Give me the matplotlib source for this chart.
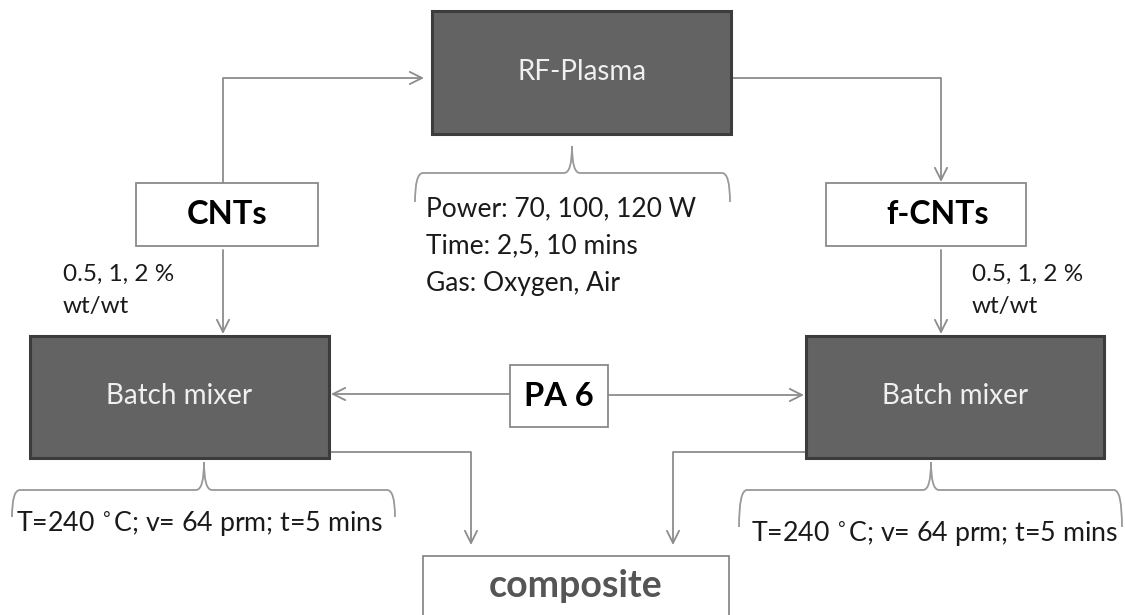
import matplotlib.pyplot as plt
from matplotlib.patches import Rectangle, PathPatch
from matplotlib.path import Path

# Text content of the flowchart
dark_labels = ['RF-Plasma', 'Batch mixer', 'Batch mixer']
light_labels = ['CNTs', 'f-CNTs', 'PA 6', 'composite']
plasma_params = ['Power: 70, 100, 120 W', 'Time: 2,5, 10 mins', 'Gas: Oxygen, Air']
loading_lines = ['0.5, 1, 2 %', 'wt/wt']
mixer_params = 'T=240 $^{\\circ}$C; v= 64 prm; t=5 mins'

plt.rcParams['font.family'] = ['Lato', 'DejaVu Sans']

fig = plt.figure(figsize=(11.25, 6.15), dpi=100)
ax = fig.add_axes([0, 0, 1, 1])
ax.set_xlim(0, 1125)
ax.set_ylim(615, 0)
ax.axis('off')

line_c = '#8c8c8c'
dark_fill = '#636363'
dark_edge = '#3c3c3c'

# box geometry (x0, y0, x1, y1) in pixels
dark_boxes = [(432, 11, 731, 134), (30, 336, 329, 458), (806, 336, 1104, 458)]
light_boxes = [(136, 183, 318, 246), (826, 183, 1026, 246), (510, 365, 608, 427), (423, 556, 729, 700)]

for (x0, y0, x1, y1), lab in zip(dark_boxes, dark_labels):
    ax.add_patch(Rectangle((x0, y0), x1 - x0, y1 - y0, facecolor=dark_fill,
                           edgecolor=dark_edge, lw=2.2, zorder=2))
    ax.text((x0 + x1) / 2, (y0 + y1) / 2 - 1, lab, color='#f0f0f0', fontsize=20,
            ha='center', va='center', zorder=3)

light_styles = [dict(color='black', fontsize=23.5), dict(color='black', fontsize=23),
                dict(color='black', fontsize=23.5), dict(color='#555555', fontsize=27)]
for (x0, y0, x1, y1), lab, st in zip(light_boxes, light_labels, light_styles):
    ax.add_patch(Rectangle((x0, y0), x1 - x0, y1 - y0, facecolor='white',
                           edgecolor='#8a8a8a', lw=1.3, zorder=2))
    cy = (y0 + y1) / 2 if y1 < 615 else 586
    cx = (x0 + x1) / 2 + (12 if lab == 'f-CNTs' else 0)
    ax.text(cx, cy, lab, fontweight='bold', ha='center', va='center', zorder=3, **st)


def elbow(pts):
    xs, ys = zip(*pts[:-1])
    ax.plot(xs, ys, color=line_c, lw=1.3, zorder=1, solid_capstyle='butt')
    ax.annotate('', xy=pts[-1], xytext=pts[-2],
                arrowprops=dict(arrowstyle='->', color=line_c, lw=1.3,
                                mutation_scale=22, shrinkA=0, shrinkB=0), zorder=1)


elbow([(223, 183), (223, 78), (424, 78)])
elbow([(731, 78), (941, 78), (941, 182)])
elbow([(223, 250), (223, 334)])
elbow([(941, 250), (941, 334)])
elbow([(510, 394), (331, 394)])
elbow([(608, 395), (804, 395)])
elbow([(329, 452), (471, 452), (471, 545)])
elbow([(806, 452), (673, 452), (673, 545)])


def brace(x0, x1, tip, ytip, ybar, yend):
    r = 8
    verts = [(x0, yend), (x0, ybar), (x0 + r, ybar),
             (tip - r, ybar), (tip, ybar), (tip, ytip),
             (tip, ybar), (tip + r, ybar),
             (x1 - r, ybar), (x1, ybar), (x1, yend)]
    codes = [Path.MOVETO, Path.CURVE3, Path.CURVE3,
             Path.LINETO, Path.CURVE3, Path.CURVE3,
             Path.CURVE3, Path.CURVE3,
             Path.LINETO, Path.CURVE3, Path.CURVE3]
    ax.add_patch(PathPatch(Path(verts, codes), facecolor='none',
                           edgecolor='#999999', lw=1.3, zorder=1))


brace(415, 730, 572, 146, 173, 202)
brace(12, 395, 204, 462, 490, 517)
brace(739, 1122, 931, 462, 490, 527)

for i, line in enumerate(plasma_params):
    ax.text(426, 209 + i * 37, line, fontsize=19, ha='left', va='center', color='#1a1a1a')

for i, line in enumerate(loading_lines):
    ax.text(63, 274 + i * 32, line, fontsize=17.5, ha='left', va='center', color='#1a1a1a')
    ax.text(972, 274 + i * 32, line, fontsize=17.5, ha='left', va='center', color='#1a1a1a')

ax.text(16, 523, mixer_params, fontsize=19.3, ha='left', va='center', color='#1a1a1a')
ax.text(751, 533, mixer_params, fontsize=19.3, ha='left', va='center', color='#1a1a1a')

fig.savefig('out.png', dpi=100)
